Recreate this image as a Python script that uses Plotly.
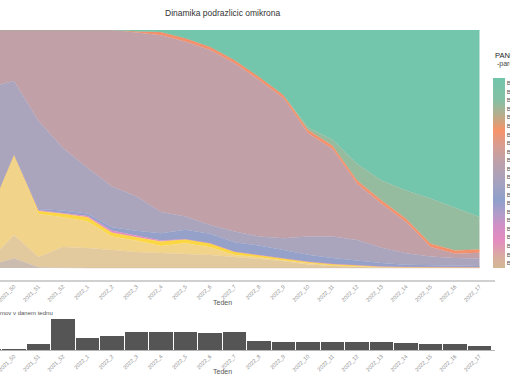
import plotly.graph_objects as go
import numpy as np

W, H = 510, 382

weeks = ["2021_49", "2021_50", "2021_51", "2021_52", "2022_1", "2022_2", "2022_3",
         "2022_4", "2022_5", "2022_6", "2022_7", "2022_8", "2022_9", "2022_10",
         "2022_11", "2022_12", "2022_13", "2022_14", "2022_15", "2022_16", "2022_17"]

# shares of sub-lineages per week (bottom -> top of the stack)
b11529 = [0.01, 0.04, 0.003, 0, 0, 0, 0, 0, 0, 0, 0, 0, 0, 0, 0, 0, 0, 0, 0, 0, 0]
ba117 = [0.02, 0.099, 0.043, 0.088, 0.084, 0.076, 0.067, 0.063, 0.059, 0.055, 0.046,
         0.038, 0.029, 0.015, 0.008, 0.004, 0.002, 0.002, 0.002, 0.002, 0.002]
ba115 = [0.205, 0.34, 0.181, 0.125, 0.111, 0.056, 0.048, 0.029, 0.045, 0.032, 0.009,
         0.007, 0.002, 0.005, 0.003, 0.002, 0.002, 0, 0, 0, 0]
ba114 = [0, 0, 0.012, 0.015, 0.018, 0.016, 0.014, 0.019, 0.017, 0.017, 0.013,
         0.01, 0.01, 0.006, 0.006, 0.005, 0.002, 0.002, 0.001, 0.001, 0.001]
ba113 = [0, 0, 0.004, 0.004, 0.006, 0.008, 0.008, 0.005, 0, 0, 0,
         0, 0, 0, 0, 0, 0, 0, 0, 0, 0]
ba118 = [0, 0, 0.005, 0.01, 0.01, 0.015, 0.02, 0.03, 0.04, 0.04, 0.04,
         0.04, 0.035, 0.03, 0.025, 0.02, 0.015, 0.01, 0.008, 0.005, 0.005]
ba1 = [0.525, 0.307, 0.37, 0.262, 0.191, 0.171, 0.143, 0.089, 0.055, 0.037, 0.045,
       0.037, 0.049, 0.076, 0.09, 0.087, 0.064, 0.048, 0.037, 0.034, 0.032]
ba11 = [0.24, 0.214, 0.382, 0.496, 0.58, 0.658, 0.689, 0.743, 0.735, 0.735, 0.707,
        0.658, 0.588, 0.434, 0.368, 0.236, 0.185, 0.131, 0.04, 0.018, 0.024]
ba23 = [0, 0, 0, 0, 0, 0, 0.006, 0.014, 0.014, 0.014, 0.014,
        0.014, 0.014, 0.014, 0.014, 0.014, 0.014, 0.014, 0.014, 0.014, 0.014]
ba29 = [0, 0, 0, 0, 0, 0, 0, 0, 0, 0, 0,
        0, 0, 0.01, 0.025, 0.07, 0.084, 0.119, 0.19, 0.18, 0.136]
ba2 = [0, 0, 0, 0, 0, 0, 0.005, 0.008, 0.035, 0.07, 0.126,
       0.196, 0.273, 0.41, 0.461, 0.562, 0.632, 0.674, 0.708, 0.746, 0.786]

# number of sequenced genomes per week
genomes = [20, 25, 150, 780, 300, 350, 450, 450, 450, 440, 465,
           225, 200, 200, 200, 200, 200, 175, 150, 150, 100]

layers = [
    ("B.1.1.529", b11529, "#cbbcb0"),
    ("BA.1.17", ba117, "#e3c99e"),
    ("BA.1.15", ba115, "#f2d38a"),
    ("BA.1.14", ba114, "#fbd843"),
    ("BA.1.13", ba113, "#e58bc2"),
    ("BA.1.18", ba118, "#95a1c9"),
    ("BA.1", ba1, "#aaa5bd"),
    ("BA.1.1", ba11, "#c1a0a8"),
    ("BA.2.3", ba23, "#f5906a"),
    ("BA.2.9", ba29, "#96bc9f"),
    ("BA.2", ba2, "#73c5ab"),
]

legend_labels = ["BA.2", "BA.2.1", "BA.2.2", "BA.2.3", "BA.2.9", "BA.2.10", "BA.2.12",
                 "BA.1.1", "BA.1.1.1", "BA.1.1.2", "BA.1.1.14", "BA.1", "BA.1.18",
                 "BA.1.17", "BA.1.16", "BA.1.15", "BA.1.14", "BA.1.13", "BA.1.12",
                 "BA.1.10", "BA.1.2", "B.1.1.529"]

x = np.arange(len(weeks)) - 1

def px_x(p):
    return p / W

def px_y(p):
    return 1 - p / H

fig = go.Figure()

for name, vals, col in layers:
    fig.add_trace(go.Scatter(
        x=x, y=vals, name=name, mode="lines", stackgroup="one",
        line=dict(width=0.4, color=col), fillcolor=col,
        xaxis="x", yaxis="y", showlegend=False))

fig.add_trace(go.Bar(
    x=x, y=genomes, width=0.95, marker=dict(color="#555555", line=dict(width=0)),
    xaxis="x2", yaxis="y2", showlegend=False))

cscale = [[0.0, "#d2b894"], [0.053, "#d8ae9f"], [0.147, "#e48cc0"], [0.226, "#cf90c6"],
          [0.279, "#b39bc9"], [0.358, "#8fa0cb"], [0.463, "#a8a2bd"], [0.568, "#c0a0a8"],
          [0.647, "#d99c90"], [0.726, "#f69369"], [0.805, "#b6ad8c"], [0.884, "#85c0a4"],
          [1.0, "#72c5ab"]]

tv = list(np.linspace((268 - 263) / 190, (268 - 83) / 190, len(legend_labels)))
fig.add_trace(go.Scatter(
    x=[-5, -5], y=[0.5, 0.5], mode="markers", xaxis="x", yaxis="y", showlegend=False,
    marker=dict(color=[0, 1], cmin=0, cmax=1, colorscale=cscale, showscale=True, size=1,
                colorbar=dict(x=px_x(493), xanchor="left", y=px_y(173), yanchor="middle",
                              len=190, lenmode="pixels", thickness=12,
                              thicknessmode="pixels", outlinewidth=0, xpad=0, ypad=0,
                              ticks="", tickvals=tv, ticktext=legend_labels[::-1],
                              tickfont=dict(size=6, color="#555555"))),
    hoverinfo="skip"))

xr = [-14 / 24.5, 19 + 15.5 / 24.5]
xdom = [0, 495 / W]

axis_common = dict(range=xr, domain=xdom, tickmode="array", tickvals=list(x),
                   ticktext=weeks, tickangle=-45, showgrid=False, zeroline=False,
                   tickfont=dict(size=5.5, color="#8a8a8a", family="Liberation Sans"),
                   showline=True, ticks="", automargin=False, ticklabeloverflow="allow")

fig.update_layout(
    width=W, height=H, autosize=False,
    margin=dict(l=0, r=0, t=0, b=0, pad=0, autoexpand=False),
    paper_bgcolor="white", plot_bgcolor="white",
    font=dict(family="Liberation Sans", color="#333333"),
    xaxis=dict(**axis_common, anchor="y", linecolor="#d0d0d0", linewidth=1.5),
    yaxis=dict(range=[-11.5 / 238, 1.0], domain=[px_y(279.5), px_y(30)], automargin=False,
               showticklabels=False, showgrid=False, zeroline=False, fixedrange=True),
    xaxis2=dict(**axis_common, anchor="y2", linecolor="#b5b5b5", linewidth=1),
    yaxis2=dict(range=[0, 780 * 34 / 31], domain=[px_y(350), px_y(316)], automargin=False,
                showticklabels=False, showgrid=False, zeroline=False),
    bargap=0,
)

ann = [
    dict(text="Dinamika podrazlicic omikrona", x=px_x(222.5), y=px_y(13),
         font=dict(size=8.5, color="#333333"), xanchor="center", yanchor="middle"),
    dict(text="Teden", x=px_x(222.5), y=px_y(302), font=dict(size=7, color="#555555"),
         xanchor="center", yanchor="middle"),
    dict(text="Teden", x=px_x(222.5), y=px_y(371), font=dict(size=7, color="#555555"),
         xanchor="center", yanchor="middle"),
    dict(text="Število genomov v danem tednu", x=px_x(55), y=px_y(313),
         font=dict(size=6, color="#555555"), xanchor="right", yanchor="middle"),
    dict(text="PANGO", x=px_x(493), y=px_y(55), font=dict(size=7.5, color="#222222"),
         xanchor="left", yanchor="middle"),
    dict(text="-parent", x=px_x(495), y=px_y(64), font=dict(size=7, color="#444444"),
         xanchor="left", yanchor="middle"),
]
for a in ann:
    fig.add_annotation(xref="paper", yref="paper", showarrow=False, **a)

fig.write_html("out.html", config={"displayModeBar": False},
               post_script="document.body.style.margin='0';"
                           "document.body.style.overflow='hidden';")
